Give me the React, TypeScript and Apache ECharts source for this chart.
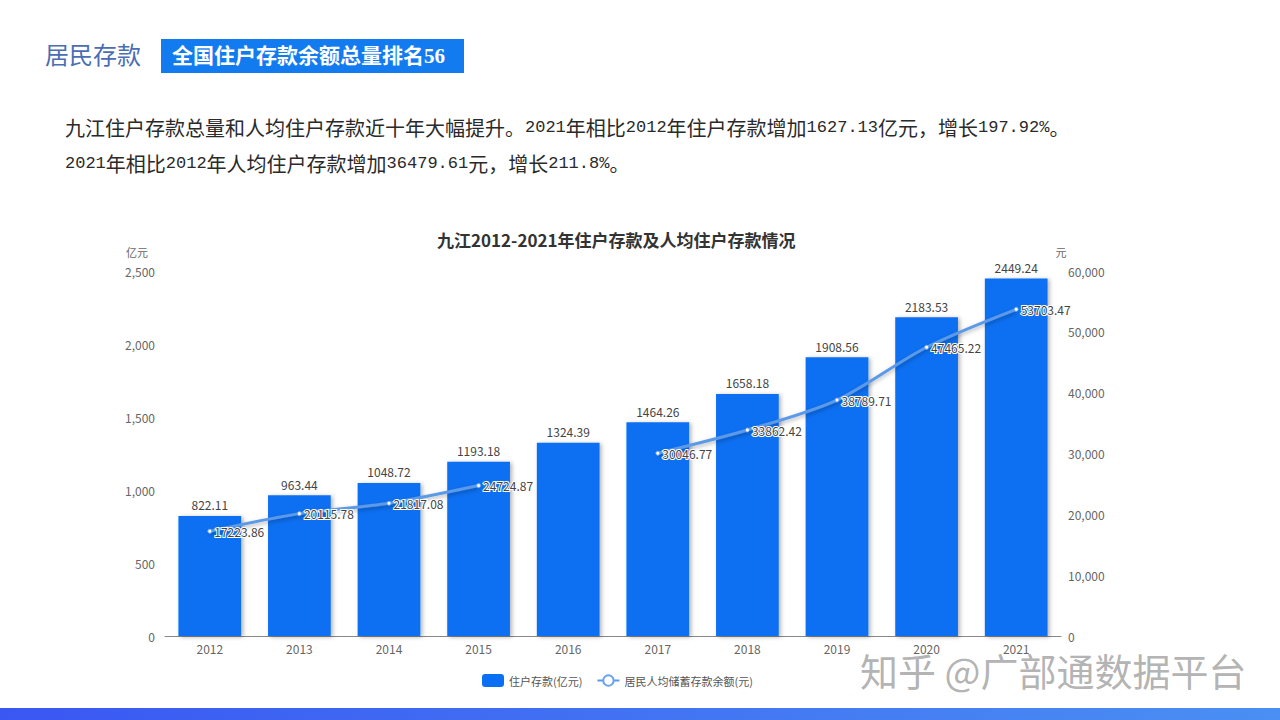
import React, { useEffect, useRef } from "react";
import * as echarts from "echarts";

const years = ["2012", "2013", "2014", "2015", "2016", "2017", "2018", "2019", "2020", "2021"];
const deposits = [822.11, 963.44, 1048.72, 1193.18, 1324.39, 1464.26, 1658.18, 1908.56, 2183.53, 2449.24];
const perCapita: (number | null)[] = [17223.86, 20115.78, 21817.08, 24724.87, null, 30046.77, 33862.42, 38789.71, 47465.22, 53703.47];

const seriesNames = ["住户存款(亿元)", "居民人均储蓄存款余额(元)"];
const chartTitle = "九江2012-2021年住户存款及人均住户存款情况";
const leftUnit = "亿元";
const rightUnit = "元";
const sectionLabel = "居民存款";
const badgeText = "全国住户存款余额总量排名56";
const para1 = "九江住户存款总量和人均住户存款近十年大幅提升。2021年相比2012年住户存款增加1627.13亿元，增长197.92%。";
const para2 = "2021年相比2012年人均住户存款增加36479.61元，增长211.8%。";
const watermark = "知乎 @广部通数据平台";

const SANS = "'Noto Sans CJK SC', 'Open Sans', sans-serif";
const SERIF = "'Liberation Serif', 'DejaVu Serif', 'Noto Sans CJK SC', serif";

// split a mixed string into rich-text runs: ASCII runs use a monospace face, CJK runs a CJK face
function toRich(s: string): string {
  return s
    .split(/([\x00-\x7f]+)/)
    .filter((p) => p.length > 0)
    .map((p) => (/^[\x00-\x7f]+$/.test(p) ? `{n|${p}}` : `{c|${p}}`))
    .join("");
}

const paraRich = {
  c: { fontSize: 20, fontFamily: "'Noto Sans CJK SC', sans-serif", fill: "#2a2a2a", color: "#2a2a2a" },
  n: { fontSize: 17, fontFamily: "'Liberation Mono', 'DejaVu Sans Mono', monospace", fill: "#2a2a2a", color: "#2a2a2a" },
};

export default function App() {
  const ref = useRef<HTMLDivElement>(null);
  useEffect(() => {
    document.body.style.margin = "0";
    const chart = echarts.init(ref.current!, null, { renderer: "svg" });
    chart.setOption({
      animation: false,
      backgroundColor: "#ffffff",
      textStyle: { fontFamily: SANS },
      title: {
        text: chartTitle,
        left: 432,
        top: 226,
        textStyle: { fontSize: 17, fontWeight: "bold", color: "#333", fontFamily: SANS },
      },
      legend: {
        bottom: 28,
        left: 477,
        itemGap: 14,
        itemWidth: 22,
        itemHeight: 13,
        textStyle: { color: "#555", fontSize: 11, fontFamily: SANS },
        data: [
          { name: seriesNames[0], icon: "roundRect" },
          { name: seriesNames[1] },
        ],
      },
      grid: { left: 165, right: 219, top: 271, bottom: 84 },
      xAxis: {
        type: "category",
        data: years,
        axisLine: { lineStyle: { color: "#888" } },
        axisTick: { show: false },
        axisLabel: { color: "#666", fontSize: 12, margin: 6 },
      },
      yAxis: [
        {
          type: "value",
          name: leftUnit,
          nameTextStyle: { color: "#666", fontSize: 11, align: "right", padding: [0, 17, 0, 0] },
          nameGap: 14,
          min: 0,
          max: 2500,
          interval: 500,
          splitLine: { show: false },
          axisLine: { show: false },
          axisTick: { show: false },
          axisLabel: { color: "#666", fontSize: 12, margin: 10 },
        },
        {
          type: "value",
          name: rightUnit,
          nameTextStyle: { color: "#666", fontSize: 11 },
          nameGap: 14,
          min: 0,
          max: 60000,
          interval: 10000,
          splitLine: { show: false },
          axisLine: { show: false },
          axisTick: { show: false },
          axisLabel: { color: "#666", fontSize: 12, margin: 7 },
        },
      ],
      series: [
        {
          name: seriesNames[0],
          type: "bar",
          data: deposits,
          barWidth: "70%",
          itemStyle: {
            color: "#0a6ff2",
            shadowColor: "rgba(0,0,0,0.3)",
            shadowBlur: 4,
            shadowOffsetX: 2,
            shadowOffsetY: 1,
          },
          label: { show: true, position: "top", color: "#444", fontSize: 12, distance: 5 },
        },
        {
          name: seriesNames[1],
          type: "line",
          yAxisIndex: 1,
          data: perCapita,
          smooth: 0.3,
          connectNulls: false,
          symbol: "circle",
          symbolSize: 4,
          showSymbol: true,
          itemStyle: { color: "#ffffff", borderColor: "#6aa4ec", borderWidth: 1 },
          lineStyle: {
            color: "#5c9ae8",
            width: 3,
            shadowColor: "rgba(0,0,0,0.3)",
            shadowBlur: 4,
            shadowOffsetY: 2,
          },
          label: {
            show: true,
            position: "right",
            distance: 2,
            color: "#444",
            fontSize: 12,
            textBorderColor: "#ffffff",
            textBorderWidth: 2,
          },
        },
      ],
      graphic: [
        {
          type: "text",
          x: 45,
          y: 56,
          style: { text: sectionLabel, fill: "#4a6db3", font: `24px ${SERIF}`, verticalAlign: "middle" },
        },
        {
          type: "rect",
          shape: { x: 161, y: 39, width: 303, height: 34 },
          style: { fill: "#137bf0" },
        },
        {
          type: "text",
          x: 172,
          y: 56,
          style: { text: badgeText, fill: "#ffffff", font: `bold 21px ${SERIF}`, verticalAlign: "middle" },
        },
        {
          type: "text",
          x: 65,
          y: 127,
          style: { text: toRich(para1), rich: paraRich, fill: "#2a2a2a", verticalAlign: "middle" },
        },
        {
          type: "text",
          x: 65,
          y: 163,
          style: { text: toRich(para2), rich: paraRich, fill: "#2a2a2a", verticalAlign: "middle" },
        },
        {
          type: "rect",
          shape: { x: 0, y: 708, width: 1280, height: 12 },
          style: {
            fill: new echarts.graphic.LinearGradient(0, 0, 1, 0, [
              { offset: 0, color: "#3a57f2" },
              { offset: 1, color: "#4a8ff3" },
            ]),
          },
        },
        {
          type: "text",
          x: 860,
          y: 669,
          style: {
            text: watermark,
            fill: "rgba(170,170,170,0.9)",
            font: `38px ${SANS}`,
            verticalAlign: "middle",
            stroke: "rgba(255,255,255,0.8)",
            lineWidth: 1,
          },
        },
      ],
    });
    return () => chart.dispose();
  }, []);
  return <div ref={ref} style={{ position: "fixed", left: 0, top: 0, width: 1280, height: 720 }} />;
}
